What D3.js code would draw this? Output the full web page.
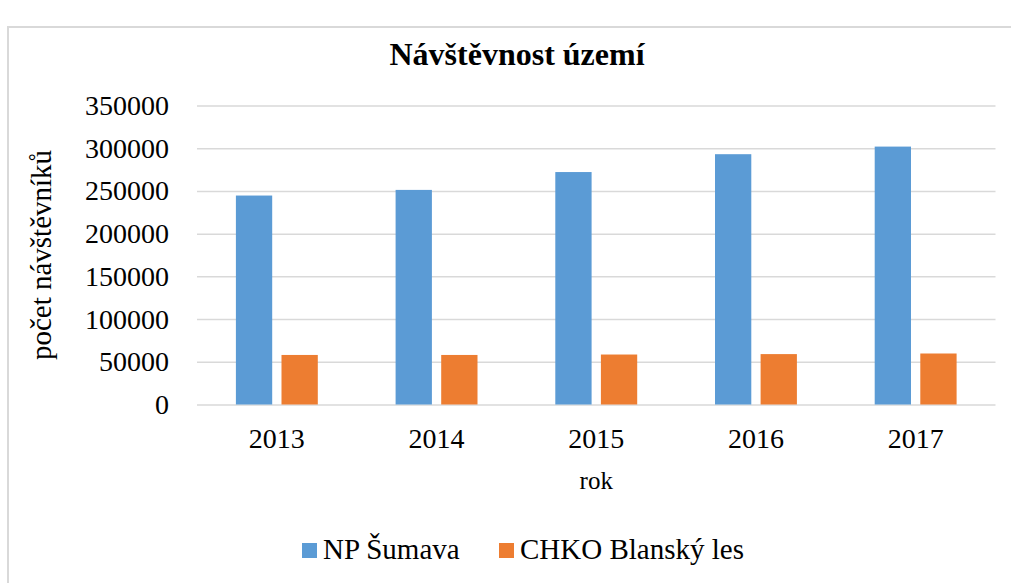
<!DOCTYPE html>
<html>
<head>
<meta charset="utf-8">
<script src="https://cdn.jsdelivr.net/npm/d3@7"></script>
<style>
  html, body { margin: 0; padding: 0; background: #fff; }
  svg { display: block; font-family: "Liberation Serif", "Times New Roman", serif; }
</style>
</head>
<body>
<svg id="chart" width="1011" height="583"></svg>
<script>
const title = "Návštěvnost území";
const xTitle = "rok";
const yTitle = "počet návštěvníků";
const years = ["2013", "2014", "2015", "2016", "2017"];
const seriesNames = ["NP Šumava", "CHKO Blanský les"];
const sumava = [244600, 251200, 272100, 293000, 301900];
const blansky = [58000, 58000, 58500, 59000, 59700];
const yTicks = [0, 50000, 100000, 150000, 200000, 250000, 300000, 350000];
const colors = ["#5b9bd5", "#ed7d31"];

const svg = d3.select("#chart");
const plotLeft = 197, plotRight = 995.5, plotTop = 105.5, plotBottom = 404.5;

// outer chart border
svg.append("rect").attr("x", 8).attr("y", 27).attr("width", 1100).attr("height", 700)
  .attr("fill", "none").attr("stroke", "#d9d9d9").attr("stroke-width", 2);

const y = d3.scaleLinear().domain([0, 350000]).range([plotBottom, plotTop]);
const x0 = d3.scaleBand().domain(years).range([plotLeft, plotRight]).padding(0);
const x1 = d3.scaleBand().domain(seriesNames).range([0, x0.bandwidth()])
  .paddingInner(0.204).paddingOuter(0.853);

// gridlines
const yAxis = d3.axisLeft(y).tickValues(yTicks).tickSize(-(plotRight - plotLeft)).tickPadding(28)
  .tickFormat(d3.format("d"));
const gy = svg.append("g").attr("transform", `translate(${plotLeft},0)`).call(yAxis);
gy.select(".domain").remove();
gy.selectAll(".tick line").attr("stroke", "#d9d9d9").attr("stroke-width", 1.5);
gy.selectAll(".tick text").attr("font-size", 28).attr("fill", "#000")
  .attr("font-family", "Liberation Serif");

// bars
const data = years.map((yr, i) => ({ year: yr, values: [sumava[i], blansky[i]] }));
const groups = svg.append("g").selectAll("g").data(data).join("g")
  .attr("transform", d => `translate(${x0(d.year)},0)`);
groups.selectAll("rect").data(d => d.values.map((v, j) => ({ name: seriesNames[j], v, j })))
  .join("rect")
  .attr("x", d => x1(d.name))
  .attr("width", x1.bandwidth())
  .attr("y", d => y(d.v))
  .attr("height", d => y(0) - y(d.v))
  .attr("fill", d => colors[d.j]);

// x axis labels
const xAxis = d3.axisBottom(x0).tickSize(0).tickPadding(24);
const gx = svg.append("g").attr("transform", `translate(0,${plotBottom})`).call(xAxis);
gx.select(".domain").remove();
gx.selectAll(".tick text").attr("font-size", 28).attr("fill", "#000")
  .attr("font-family", "Liberation Serif");

// titles
svg.append("text").attr("x", 517).attr("y", 65).attr("text-anchor", "middle")
  .attr("font-size", 32).attr("font-weight", "bold").text(title);
svg.append("text").attr("x", (plotLeft + plotRight) / 2).attr("y", 489).attr("text-anchor", "middle")
  .attr("font-size", 25).text(xTitle);
svg.append("text").attr("transform", `translate(51,255) rotate(-90)`).attr("text-anchor", "middle")
  .attr("font-size", 29).text(yTitle);

// legend
const legendX = [302, 499];
const lg = svg.append("g").selectAll("g").data(seriesNames).join("g")
  .attr("transform", (d, i) => `translate(${legendX[i]},0)`);
lg.append("rect").attr("x", 0).attr("y", 543).attr("width", 15).attr("height", 15)
  .attr("fill", (d, i) => colors[i]);
lg.append("text").attr("x", 21).attr("y", 559).attr("font-size", 29).text(d => d);
</script>
</body>
</html>
